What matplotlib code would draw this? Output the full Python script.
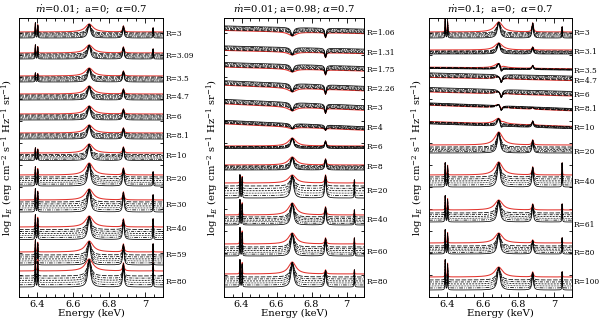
import numpy as np
import matplotlib.pyplot as plt
from matplotlib.ticker import MultipleLocator

plt.rcParams["font.family"] = ["DejaVu Serif"]
plt.rcParams["mathtext.fontset"] = "dejavuserif"

# line energies as they sit in the plotted spectra (keV)
ka_lines = [6.391, 6.404]
fe25_line = 6.69
fe26_line = 6.88
kb_line = 7.045

titles = [r"$\dot{m}$=0.01;  a=0;  $\alpha$=0.7",
          r"$\dot{m}$=0.01; a=0.98; $\alpha$=0.7",
          r"$\dot{m}$=0.1;  a=0;  $\alpha$=0.7"]
x_ticks = [6.4, 6.6, 6.8, 7.0]
x_ticklabels = ["6.4", "6.6", "6.8", "7"]

# per row: gap red -> first black curve, spread of black curves (negative = above red),
# line heights relative to red continuum, continuum slope, p-cygni dip
p1_radii = ["3", "3.09", "3.5", "4.7", "6", "8.1", "10", "20", "30", "40", "59", "80"]
p1_gap = [1, 1, 1, 1, 1, 1, 1.5, 2, 2, 2.5, 3, 5]
p1_spread = [5, 5, 5, 5, 5, 5, 6, 9, 10, 10, 10, 11]
p1_fe25 = [8, 8, 8, 8, 8, 8, 9, 12, 11, 11, 11, 12]
p1_fe26 = [6, 6, 5, 5, 5, 5, 6, 7, 8, 8, 8, 8]
p1_ka = [9, 8, 3, 0, 0, 0, 5, 8, 11, 12, 12, 14]
p1_kb = [4, 4, 0, 0, 0, 0, 0, 3, 5, 8, 8, 8]
p1_slope = [0] * 12
p1_dip = [0] * 12

p2_radii = ["1.06", "1.31", "1.75", "2.26", "3", "4", "6", "8", "20", "40", "60", "80"]
p2_gap = [-0.5, -0.5, -0.5, -0.5, -0.5, -0.5, 0.5, 1, 3, 2, 3, 3]
p2_spread = [-4, -4, -4, -4, -4, -3, 2, 4, 12, 8, 9, 10]
p2_fe25 = [-4, -3, -3, -4, -4, -2, 8, 8, 8, 12, 11, 12]
p2_fe26 = [-5, -5, -5, -5, -5, -2, 5, 6, 8, 8, 6, 4]
p2_ka = [0, 0, 0, 0, 0, 0, 0, 0, 8, 15, 16, 14]
p2_kb = [0, 0, 0, 0, 0, 0, 0, 0, 3, 5, 6, 4]
p2_slope = [4, 4, 5, 7, 8, 8, 0, 0, 0, 0, 0, 0]
p2_dip = [0] * 12

p3_radii = ["3", "3.1", "3.5", "4.7", "6", "8.1", "10", "20", "40", "61", "80", "100"]
p3_gap = [1, 1, 0.3, -0.5, -0.5, -0.3, 0.3, 2, 2, 3, 3, 3]
p3_spread = [5, 3, 1, -4, -4, -2, 2, 6, 10, 9, 8, 10]
p3_fe25 = [10, 7, 5, 3, 3, 4, 6, 13, 13, 10, 10, 10]
p3_fe26 = [9, 3, 3, 0, 0, 2, 4, 5, 8, 6, 3, 5]
p3_ka = [13, 0, 0, 0, 0, 0, 0, 0, 12, 14, 13, 17]
p3_kb = [5, 0, 0, 0, 0, 0, 0, 0, 12, 6, 5, 5]
p3_slope = [0, 0, 2, 4, 5, 7, 6, 0, 0, 0, 0, 0]
p3_dip = [0, 0, 3, 5, 5, 4, 2, 0, 0, 0, 0, 0]

# layout (pixels from top of figure)
label_px = [[34, 56, 79, 97, 117, 136, 156, 179, 205, 229, 255, 282],
            [33, 53, 70, 89, 108, 128, 147, 167, 191, 220, 252, 282],
            [33, 52, 71, 81, 95, 109, 128, 152, 182, 225, 253, 282]]
red_px = [[32, 53, 76, 94, 114, 133, 153, 175, 200, 227, 252, 271],
          [32, 52, 69, 88, 107, 127, 146, 165, 183, 215, 244, 274],
          [32, 50, 68, 79, 94, 108, 124, 145, 175, 210, 243, 277]]
axes_px = [(19, 163), (224, 364), (429, 572)]
label_gap_px = [3, 3, 2]
ylabel_x = [8, 213, 418]
top_px, bottom_px = 18, 297
W, H = 600, 321

panels = [
    (p1_radii, p1_gap, p1_spread, p1_fe25, p1_fe26, p1_ka, p1_kb, p1_slope, p1_dip),
    (p2_radii, p2_gap, p2_spread, p2_fe25, p2_fe26, p2_ka, p2_kb, p2_slope, p2_dip),
    (p3_radii, p3_gap, p3_spread, p3_fe25, p3_fe26, p3_ka, p3_kb, p3_slope, p3_dip),
]

black_styles = [(0, (6, 2)), (0, (4, 1.5, 1, 1.5)), (0, (2.5, 1.5)),
                (0, (1, 1)), (0, (5, 1.5, 1, 1.5, 1, 1.5)), "-"]
red = "#e2332d"

E = np.linspace(6.3, 7.1, 4001)


def lorentz(e0, w):
    return w ** 2 / ((E - e0) ** 2 + w ** 2)


fig = plt.figure(figsize=(W / 100, H / 100), dpi=100)

for p, (radii, gap, spread, fe25, fe26, ka, kb, slope, dip) in enumerate(panels):
    x0, x1 = axes_px[p]
    ax = fig.add_axes([x0 / W, 1 - bottom_px / H, (x1 - x0) / W, (bottom_px - top_px) / H])
    height = bottom_px - top_px
    for i, r in enumerate(radii):
        red_c = bottom_px - red_px[p][i]
        tilt = slope[i] * (6.7 - E)
        curves = [(0.0, red, "-", 0.75, 0.026)]
        for k in range(6):
            d = gap[i] + spread[i] * k / 5
            curves.append((d, "black", black_styles[k], 0.55, 0.013 - 0.0008 * k))
        for d, col, ls, lw, w25 in curves:
            y = red_c - d + tilt
            y = y + (fe25[i] + 0.9 * d) * lorentz(fe25_line, w25)
            if dip[i] > 0:
                y = y - (dip[i] + 0.5 * abs(d)) * lorentz(fe25_line + 0.014, 0.007)
            if fe26[i] != 0:
                y = y + (fe26[i] + 0.9 * d) * lorentz(fe26_line, 0.0045)
            if ka[i] > 0:
                y = y + (ka[i] + d) * lorentz(ka_lines[0], 0.0012)
                y = y + 0.8 * (ka[i] + d) * lorentz(ka_lines[1], 0.0012)
            if kb[i] > 0:
                y = y + (kb[i] + d) * lorentz(kb_line, 0.0012)
            ax.plot(E, y, color=col, ls=ls, lw=lw)
        ax.text(1 + label_gap_px[p] / (x1 - x0), bottom_px - label_px[p][i], "R=" + r,
                transform=ax.get_yaxis_transform(), fontsize=5.4,
                va="center", ha="left")
    ax.set_xlim(6.3, 7.1)
    ax.set_ylim(0, height)
    ax.set_xticks(x_ticks)
    ax.set_xticklabels(x_ticklabels, fontsize=7)
    ax.xaxis.set_minor_locator(MultipleLocator(0.05))
    ax.yaxis.set_major_locator(MultipleLocator(22))
    ax.set_yticklabels([])
    ax.tick_params(which="both", direction="in", top=True, right=True, width=0.6, pad=2)
    ax.tick_params(which="major", length=3.5)
    ax.tick_params(which="minor", length=2)
    ax.tick_params(axis="y", length=2.5)
    for s in ax.spines.values():
        s.set_linewidth(0.7)
    xc = (x0 + x1) / 2 / W
    fig.text(xc, 1 - 10 / H, titles[p], ha="center", va="center", fontsize=7.2)
    fig.text(xc, 1 - 313 / H, "Energy (keV)", ha="center", va="center", fontsize=7.2)
    fig.text(ylabel_x[p] / W, 1 - 157 / H,
             r"log I$_E$ (erg cm$^{-2}$ s$^{-1}$ Hz$^{-1}$ sr$^{-1}$)",
             rotation=90, ha="center", va="center", fontsize=7.2)

fig.savefig("out.png", dpi=100)
